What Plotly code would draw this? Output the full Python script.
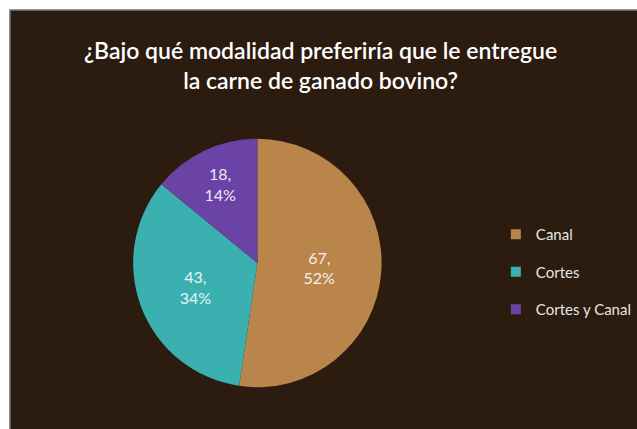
import plotly.graph_objects as go

categories = ["Canal", "Cortes", "Cortes y Canal"]
values = [67, 43, 18]
colors = ["#B9854B", "#3BB0B1", "#6B43A6"]
title_text = "¿Bajo qué modalidad preferiría que le entregue<br>la carne de ganado bovino?"

W, H = 637, 429
BG = "#2C1B0F"
FONT = "Lato"

fig = go.Figure()

cx, cy, r = 259, 263, 125
fig.add_trace(go.Pie(
    labels=categories, values=values,
    marker=dict(colors=colors, line=dict(width=0)),
    sort=False, direction="clockwise", rotation=0,
    texttemplate="%{value},<br>%{percent:.0%}",
    textposition="inside", insidetextorientation="horizontal",
    textfont=dict(family=FONT, size=16, color="rgba(255,255,255,0.9)"),
    showlegend=False, hoverinfo="label+value+percent",
    domain=dict(x=[(cx - r) / W, (cx + r) / W], y=[(H - cy - r) / H, (H - cy + r) / H]),
))

for cat, col in zip(categories, colors):
    fig.add_trace(go.Scatter(
        x=[None], y=[None], mode="markers", name=cat, legendgroup=cat,
        marker=dict(symbol="square", size=10, color=col),
    ))

fig.update_layout(
    width=W, height=H,
    margin=dict(l=0, r=0, t=0, b=0),
    paper_bgcolor="white", plot_bgcolor="rgba(0,0,0,0)",
    xaxis=dict(visible=False), yaxis=dict(visible=False),
    showlegend=True,
    legend=dict(
        x=499 / W, y=(H - 218) / H, xanchor="left", yanchor="top",
        font=dict(family=FONT, size=15, color="#E6E6E6"),
        bgcolor="rgba(0,0,0,0)", tracegroupgap=15, itemwidth=30,
    ),
    shapes=[dict(
        type="rect", xref="paper", yref="paper",
        x0=10 / W, x1=1.01, y0=-0.01, y1=(H - 10) / H,
        fillcolor=BG, line=dict(color="#7A7A7A", width=1.5), layer="below",
    )],
    annotations=[dict(
        text=title_text, xref="paper", yref="paper",
        x=323 / W, y=(H - 65) / H, xanchor="center", yanchor="middle",
        showarrow=False, font=dict(family=FONT, size=23, color="white", weight=600),
    )],
)

fig.write_html("out.html")
